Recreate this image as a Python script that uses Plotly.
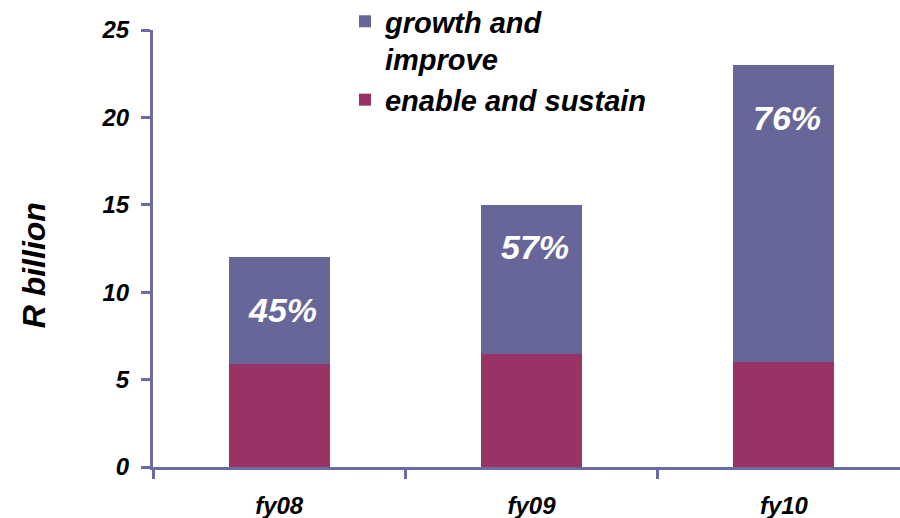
import plotly.graph_objects as go

# Spend by category, R billion
years = ["fy08", "fy09", "fy10"]
enable_sustain = [5.9, 6.45, 6.0]
growth_improve = [6.1, 8.55, 17.0]
share_labels = ["45%", "57%", "76%"]
y_ticks = [0, 5, 10, 15, 20, 25]

PURPLE = "#666699"
MAGENTA = "#993366"
AXIS = "#6c6ca2"
FONT = "Liberation Sans"

fig = go.Figure()
fig.add_trace(go.Bar(
    x=years, y=enable_sustain, name="<b><i>enable and sustain</i></b>",
    marker=dict(color=MAGENTA, line=dict(width=0)), width=0.4,
))
fig.add_trace(go.Bar(
    x=years, y=growth_improve, name="<b><i>growth and<br>improve</i></b>",
    marker=dict(color=PURPLE, line=dict(width=0)), width=0.4,
))

# percentage labels inside the upper segment
label_y = [8.97, 12.58, 19.96]
for yr, txt, ly in zip(years, share_labels, label_y):
    fig.add_annotation(
        x=yr, y=ly, xref="x", yref="y", text=f"<b><i>{txt}</i></b>",
        showarrow=False, xshift=3,
        font=dict(family=FONT, size=34, color="white"),
    )

# axis title
fig.add_annotation(
    x=-0.159, y=0.462, xref="paper", yref="paper",
    xanchor="center", yanchor="middle",
    text="<b><i>R billion</i></b>", textangle=-90, showarrow=False,
    font=dict(family=FONT, size=32, color="black"),
)

fig.update_layout(
    barmode="stack",
    width=900, height=518,
    margin=dict(l=153, r=0, t=30, b=51, autoexpand=False),
    paper_bgcolor="white", plot_bgcolor="white",
    font=dict(family=FONT, color="black"),
    showlegend=True,
    legend=dict(
        x=0.257, y=1.078, xanchor="left", yanchor="top",
        traceorder="reversed", valign="top",
        font=dict(family=FONT, size=29, color="black"),
        bgcolor="rgba(0,0,0,0)", itemwidth=30, tracegroupgap=2,
    ),
    xaxis=dict(
        type="category", range=[-0.5, 2.46],
        showline=True, linecolor=AXIS, linewidth=3,
        ticks="outside", tickson="boundaries", ticklen=9, tickwidth=3, tickcolor=AXIS,
        tickfont=dict(family=FONT, size=24, color="black"),
        tickvals=years, ticktext=[f"<b><i>{y}</i></b>" for y in years],
        ticklabelstandoff=15,
        showgrid=False, zeroline=False,
    ),
    yaxis=dict(
        range=[0, 25], tickvals=y_ticks,
        ticktext=[f"<b><i>{v}</i></b>" for v in y_ticks],
        showline=True, linecolor=AXIS, linewidth=3,
        ticks="outside", ticklen=9, tickwidth=3, tickcolor=AXIS,
        tickfont=dict(family=FONT, size=24, color="black"),
        ticklabelstandoff=7,
        showgrid=False, zeroline=False,
    ),
)

fig.write_html("out.html")
